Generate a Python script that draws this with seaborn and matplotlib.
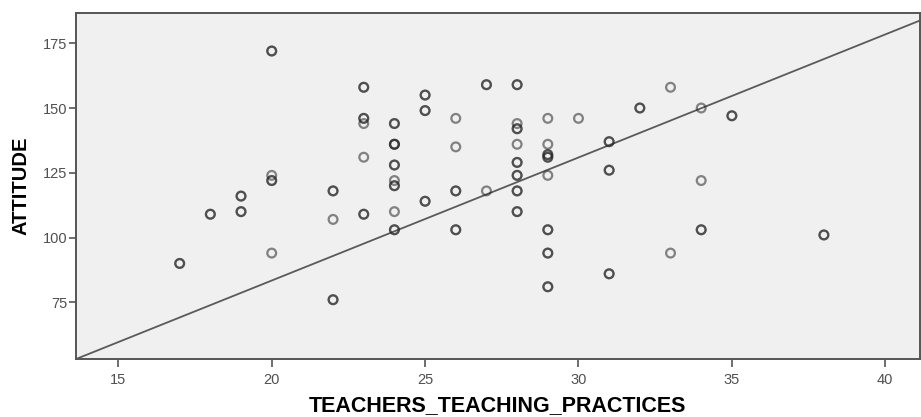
import numpy as np
import pandas as pd
import seaborn as sns
import matplotlib
matplotlib.use('Agg')
import matplotlib.pyplot as plt

# Points; n = how many cases sit on the same spot
practices = [17, 18, 19, 19, 20, 20, 20, 20, 22, 22, 22, 23, 23, 23, 23, 23,
             24, 24, 24, 24, 24, 24, 24, 25, 25, 25, 26, 26, 26, 26,
             27, 27, 28, 28, 28, 28, 28, 28, 28, 28,
             29, 29, 29, 29, 29, 29, 29, 29, 30, 31, 31, 31, 32, 33, 33,
             34, 34, 34, 35, 38]
attitude = [90, 109, 116, 110, 172, 124, 122, 94, 118, 107, 76, 158, 146, 144, 131, 109,
            144, 136, 128, 122, 120, 110, 103, 155, 149, 114, 146, 135, 118, 103,
            159, 118, 159, 144, 142, 136, 129, 124, 118, 110,
            146, 136, 132, 131, 124, 103, 94, 81, 146, 137, 126, 86, 150, 158, 94,
            150, 122, 103, 147, 101]
n_cases = [2, 2, 2, 2, 2, 1, 2, 1, 2, 1, 2, 2, 2, 1, 1, 2,
           2, 3, 2, 1, 2, 1, 2, 2, 2, 2, 1, 1, 2, 2,
           2, 1, 2, 1, 2, 1, 2, 2, 2, 2,
           1, 1, 2, 2, 1, 2, 2, 2, 1, 2, 2, 2, 2, 1, 1,
           1, 1, 2, 2, 2]

# fit line (total)
fit_intercept = -11.6
fit_slope = 4.75

df = pd.DataFrame({'TEACHERS_TEACHING_PRACTICES': practices, 'ATTITUDE': attitude, 'n': n_cases})
df_long = df.loc[df.index.repeat(df['n'])].reset_index(drop=True)

fig = plt.figure(figsize=(9.21, 4.17), dpi=100)
ax = fig.add_axes([0.0825, 0.139, 0.916, 0.83])
ax.set_facecolor('#f0f0f0')

# hollow circles; stacked cases look darker
sns.scatterplot(data=df_long, x='TEACHERS_TEACHING_PRACTICES', y='ATTITUDE', ax=ax, s=40,
                facecolors='none', edgecolor=(0.15, 0.15, 0.15, 0.55), linewidth=1.6, zorder=3)

ax.axline((0, fit_intercept), slope=fit_slope, color='#5a5a5a', lw=1.3, zorder=2)

ax.set_xlim(13.62, 41.12)
ax.set_ylim(53.1, 186.7)
ax.set_xticks([15, 20, 25, 30, 35, 40])
ax.set_yticks([75, 100, 125, 150, 175])
for s in ax.spines.values():
    s.set_color('#555555')
    s.set_linewidth(1.4)
ax.tick_params(axis='x', length=6, width=1.2, color='#555555', labelsize=10.5, labelcolor='#505050', pad=4)
ax.tick_params(axis='y', length=5, width=1.2, color='#555555', labelsize=10.5, labelcolor='#505050', pad=1)
for lab in ax.get_xticklabels() + ax.get_yticklabels():
    lab.set_family('Liberation Sans')
ax.set_xlabel('TEACHERS_TEACHING_PRACTICES', fontsize=15.5, fontweight='bold', family='Liberation Sans', labelpad=6)
ax.set_ylabel('ATTITUDE', fontsize=14.5, fontweight='bold', family='Liberation Sans', labelpad=9)

fig.savefig('out.png', dpi=100)
